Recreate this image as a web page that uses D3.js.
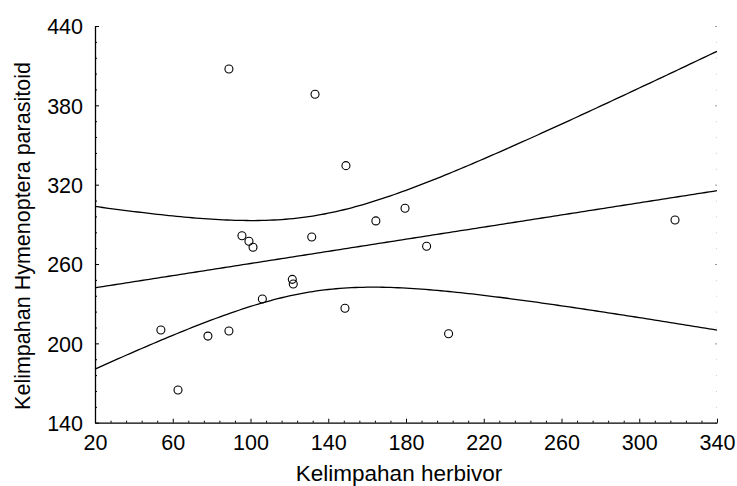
<!DOCTYPE html>
<html>
<head>
<meta charset="utf-8">
<script src="https://cdn.jsdelivr.net/npm/d3@7"></script>
<style>
  body { margin: 0; background: #fff; }
  svg { display: block; font-family: "Liberation Sans", Arial, sans-serif; }
</style>
</head>
<body>
<div id="app"></div>
<script>
// herbivore abundance (x) and parasitoid abundance (y)
var herbivor = [53.9, 62.7, 78.1, 88.9, 88.9, 95.6, 99.2, 101.3, 106.1, 121.5,
  122, 131.5, 133.2, 149.1, 148.6, 164.5, 179.5, 190.6, 201.9, 318.4];
var parasitoid = [210.1, 164.7, 205.5, 209.3, 407.5, 281.4, 277.2, 272.7, 233.5, 248.4,
  244.9, 280.4, 388.4, 334.4, 226.5, 292.6, 302.2, 273.4, 207.3, 293.3];
var xTicks = [20, 60, 100, 140, 180, 220, 260, 300, 340];
var yTicks = [140, 200, 260, 320, 380, 440];
var xLabel = "Kelimpahan herbivor";
var yLabel = "Kelimpahan Hymenoptera parasitoid";
var tCrit = 2.101; // t(0.975, df = 18)

var width = 737, height = 486;
var svg = d3.select('#app').append('svg').attr('width', width).attr('height', height);

var x = d3.scaleLinear().domain([20, 340]).range([95, 717]);
var y = d3.scaleLinear().domain([140, 440]).range([422.7, 26]);

// minor ticks: x every 8, y every 12
var xMinor = d3.range(20, 340.1, 8).filter(function(v) { return xTicks.indexOf(v) < 0; });
var yMinor = d3.range(140, 440.1, 12).filter(function(v) { return yTicks.indexOf(v) < 0; });

// faint ticks on the right edge
svg.append('g').attr('transform', 'translate(' + x(340) + ',0)')
  .call(d3.axisRight(y).tickValues(yTicks).tickSize(-2).tickSizeOuter(0).tickFormat(''))
  .call(function(g) { g.select('.domain').remove(); g.selectAll('line').attr('stroke', '#999'); });
svg.append('g').attr('transform', 'translate(' + x(340) + ',0)')
  .call(d3.axisRight(y).tickValues(yMinor).tickSize(-1).tickSizeOuter(0).tickFormat(''))
  .call(function(g) { g.select('.domain').remove(); g.selectAll('line').attr('stroke', '#ccc'); });

// x axis
var gx = svg.append('g').attr('transform', 'translate(0,' + y(140) + ')')
  .call(d3.axisBottom(x).tickValues(xTicks).tickSize(-4).tickSizeOuter(0).tickPadding(10));
gx.selectAll('text').attr('font-size', 21.5).attr('font-family', null).attr('fill', '#000')
  .attr('y', 27.5).attr('dy', 0);
svg.append('g').attr('transform', 'translate(0,' + y(140) + ')')
  .call(d3.axisBottom(x).tickValues(xMinor).tickSize(-2).tickSizeOuter(0).tickFormat(''))
  .select('.domain').remove();

// y axis
var gy = svg.append('g').attr('transform', 'translate(' + x(20) + ',0)')
  .call(d3.axisLeft(y).tickValues(yTicks).tickSize(-4).tickSizeOuter(0).tickPadding(12));
gy.selectAll('text').attr('font-size', 21.5).attr('font-family', null).attr('fill', '#000')
  .attr('x', -12).attr('dy', '0.36em');
svg.append('g').attr('transform', 'translate(' + x(20) + ',0)')
  .call(d3.axisLeft(y).tickValues(yMinor).tickSize(-2).tickSizeOuter(0).tickFormat(''))
  .select('.domain').remove();

svg.selectAll('.domain').attr('stroke', '#000').attr('stroke-width', 1.3);

// linear fit with 95% confidence band
var n = herbivor.length;
var mx = d3.mean(herbivor), my = d3.mean(parasitoid);
var sxx = d3.sum(herbivor, function(v) { return (v - mx) * (v - mx); });
var sxy = d3.sum(herbivor, function(v, i) { return (v - mx) * (parasitoid[i] - my); });
var slope = sxy / sxx, icpt = my - slope * mx;
var sse = d3.sum(herbivor, function(v, i) { var r = parasitoid[i] - (icpt + slope * v); return r * r; });
var s = Math.sqrt(sse / (n - 2));

var xs = d3.range(20, 340.01, 2);
function fit(v) { return icpt + slope * v; }
function half(v) { return tCrit * s * Math.sqrt(1 / n + (v - mx) * (v - mx) / sxx); }

var line = d3.line().x(function(d) { return x(d[0]); }).y(function(d) { return y(d[1]); });
var curves = [
  xs.map(function(v) { return [v, fit(v)]; }),
  xs.map(function(v) { return [v, fit(v) + half(v)]; }),
  xs.map(function(v) { return [v, fit(v) - half(v)]; })
];
svg.selectAll('path.fit').data(curves).enter().append('path')
  .attr('class', 'fit')
  .attr('d', line)
  .attr('fill', 'none').attr('stroke', '#000').attr('stroke-width', 1.3);

// points
svg.selectAll('circle').data(herbivor).enter().append('circle')
  .attr('cx', function(d) { return x(d); })
  .attr('cy', function(d, i) { return y(parasitoid[i]); })
  .attr('r', 4)
  .attr('fill', 'none').attr('stroke', '#000').attr('stroke-width', 1.1);

// axis titles
svg.append('text').attr('x', 399).attr('y', 480.5).attr('text-anchor', 'middle')
  .attr('font-size', 22.5).text(xLabel);
svg.append('text').attr('transform', 'translate(30,236) rotate(-90)').attr('text-anchor', 'middle')
  .attr('font-size', 21.5).text(yLabel);
</script>
</body>
</html>
